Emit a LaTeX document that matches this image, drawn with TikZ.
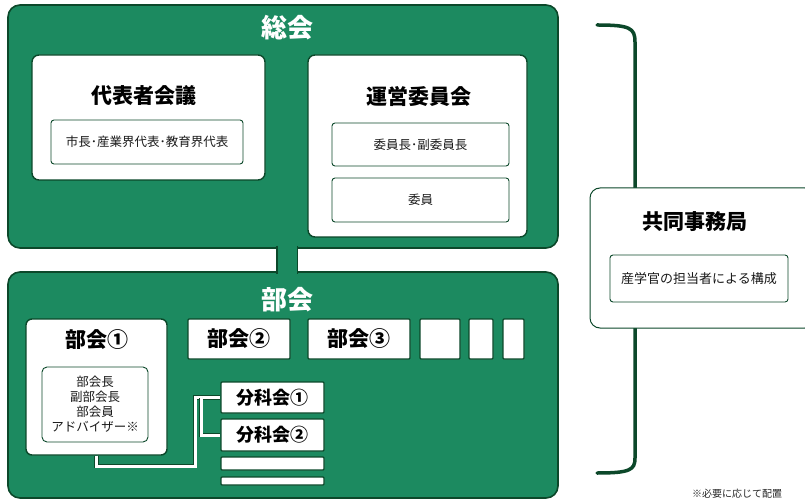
\documentclass[tikz,border=0pt]{standalone}
\usepackage{fontspec}
\setmainfont{Noto Sans CJK JP}
\definecolor{bg}{RGB}{28,138,96}
\definecolor{dk}{RGB}{12,72,42}
\tikzset{
  greenbox/.style={draw=dk, line width=1.6pt, fill=bg, rounded corners=12pt, inner sep=0pt},
  whitebox/.style={draw=dk, line width=1.4pt, fill=white, rounded corners=7pt, inner sep=0pt},
  plainbox/.style={draw=dk, line width=1.4pt, fill=white, rounded corners=1pt, inner sep=0pt},
  innerbox/.style={draw=dk, line width=0.9pt, fill=white, rounded corners=3pt, inner sep=0pt},
  gtitle/.style={text=white, inner sep=0pt, font=\fontsize{26}{28}\selectfont\bfseries},
  btitle/.style={text=black, inner sep=0pt, font=\fontsize{21}{24}\selectfont\bfseries},
  mtitle/.style={text=black, inner sep=0pt, font=\fontsize{18}{20}\selectfont\bfseries},
  smalltext/.style={text=black!90, inner sep=0pt, align=center, font=\fontsize{12.5}{15}\selectfont},
  wline/.style={draw=dk, line width=0.8pt, double=white, double distance=3pt},
  bracketline/.style={draw=dk, line width=3.5pt, line cap=round},
}
\begin{document}
\begin{tikzpicture}[x=1pt, y=-1pt]
\useasboundingbox (0,0) rectangle (805,502);
\fill[white] (0,0) rectangle (805,502);

% bracket
\coordinate (brT) at (597,25);
\coordinate (brB) at (597,473);
\draw[bracketline] (brT) .. controls (630,25) and (635,28) .. (635,42) -- (635,458) .. controls (635,470) and (630,473) .. (brB);

% green containers
\node[greenbox, minimum width=550pt, minimum height=243pt] (soukai) at (283,126.5) {};
\node[greenbox, minimum width=550pt, minimum height=226pt] (bukai) at (283,385) {};
\node[fill=bg, inner sep=0pt, minimum width=20pt, minimum height=28pt] (strip) at (287,260) {};
\draw[dk, line width=1.4pt] (strip.north west) -- (strip.south west);
\draw[dk, line width=1.4pt] (strip.north east) -- (strip.south east);

\node[gtitle] (t1) at (287,28) {総会};
\node[gtitle] (t2) at (287,300) {部会};

% 代表者会議
\node[whitebox, minimum width=233pt, minimum height=125pt] (daihyo) at (148.5,117.5) {};
\node[btitle] (daihyoT) at (144,96) {代表者会議};
\node[innerbox, minimum width=192pt, minimum height=44pt] (daihyoI) at (147,142) {};
\node[smalltext, font=\fontsize{12.5}{15}\selectfont] at (daihyoI) {市長･産業界代表･教育界代表};

% 運営委員会
\node[whitebox, minimum width=219pt, minimum height=182pt] (unei) at (417.5,146) {};
\node[btitle] (uneiT) at (419,97) {運営委員会};
\node[innerbox, minimum width=177pt, minimum height=43pt] (unei1) at (420.5,144.5) {};
\node[smalltext] at (unei1) {委員長･副委員長};
\node[innerbox, minimum width=177pt, minimum height=44pt] (unei2) at (420.5,200) {};
\node[smalltext] at (unei2) {委員};

% 部会
\node[whitebox, rounded corners=6pt, minimum width=141pt, minimum height=136pt] (b1) at (96.5,387) {};
\node[btitle] (b1T) at (96.5,340) {部会①};
\node[innerbox, rounded corners=5pt, minimum width=106pt, minimum height=75pt] (b1I) at (95,404.5) {};
\node[smalltext] at (b1I) {部会長\\副部会長\\部会員\\アドバイザー※};
\node[plainbox, minimum width=102pt, minimum height=40pt, btitle] (b2) at (239,339) {部会②};
\node[plainbox, minimum width=102pt, minimum height=40pt, btitle] (b3) at (359,339) {部会③};
\node[plainbox, minimum width=40pt, minimum height=40pt] (b4) at (440,339) {};
\node[plainbox, minimum width=24pt, minimum height=40pt] (b5) at (481,339) {};
\node[plainbox, minimum width=21pt, minimum height=40pt] (b6) at (513.5,339) {};

% 分科会
\node[plainbox, minimum width=103pt, minimum height=31pt, mtitle] (bk1) at (272.5,397.5) {分科会①};
\node[plainbox, minimum width=103pt, minimum height=32pt, mtitle] (bk2) at (272.5,435) {分科会②};
\node[plainbox, minimum width=103pt, minimum height=13pt] (bk3) at (272.5,463.5) {};
\node[plainbox, minimum width=103pt, minimum height=8pt] (bk4) at (272.5,481) {};

\coordinate (jA) at (195,466);
\coordinate (jB) at (201,397.5);
\draw[wline] (b1.south) |- (jA) |- (bk1.west);
\draw[wline] (jB) |- (bk2.west);

% 共同事務局
\node[draw=dk, line width=1pt, fill=white, rounded corners=10pt, minimum width=225pt, minimum height=140pt] (jimu) at (702.5,258) {};
\node[btitle] (jimuT) at (695,222) {共同事務局};
\node[innerbox, minimum width=178pt, minimum height=47pt] (jimuI) at (699,278.5) {};
\node[smalltext, font=\fontsize{13}{15}\selectfont] at (jimuI) {産学官の担当者による構成};

\node[text=black!85, inner sep=0pt, font=\fontsize{10}{12}\selectfont] (note) at (737,494) {※必要に応じて配置};
\end{tikzpicture}
\end{document}
